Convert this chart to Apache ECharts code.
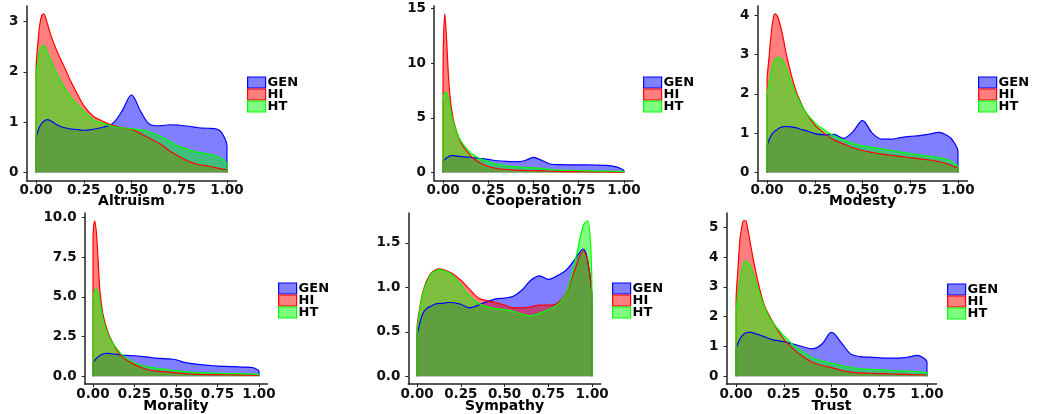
<!DOCTYPE html>
<html><head><meta charset="utf-8">
<script src="https://cdn.jsdelivr.net/npm/echarts@6/dist/echarts.min.js"></script>
<style>html,body{margin:0;padding:0;background:#fff}#c{width:1039px;height:414px}</style>
</head><body><div id="c"></div>
<script>
// shared x grid of the density estimates
const xs = [0, 0.01, 0.02, 0.03, 0.04, 0.05, 0.06, 0.08, 0.10, 0.125, 0.15, 0.175, 0.20, 0.25, 0.30, 0.35, 0.40, 0.45, 0.50, 0.55, 0.60, 0.65, 0.70, 0.75, 0.80, 0.85, 0.90, 0.95, 0.975, 1.0];
const groups = ['GEN', 'HI', 'HT'];
const panelNames = ['Altruism', 'Cooperation', 'Modesty', 'Morality', 'Sympathy', 'Trust'];
const xTicks = [0, 0.25, 0.5, 0.75, 1];

const altruismGEN = [0.69,0.82,0.92,0.98,1.02,1.04,1.05,1.02,0.97,0.92,0.89,0.87,0.86,0.84,0.86,0.90,0.97,1.22,1.54,1.20,0.95,0.93,0.95,0.94,0.92,0.89,0.88,0.86,0.78,0.53];
const altruismHI  = [2.0,2.6,2.95,3.12,3.15,3.08,2.95,2.7,2.5,2.28,2.08,1.87,1.68,1.33,1.12,1.02,0.94,0.89,0.86,0.77,0.67,0.57,0.43,0.32,0.22,0.16,0.13,0.09,0.07,0.04];
const altruismHT  = [1.9,2.2,2.42,2.5,2.52,2.47,2.38,2.2,2.03,1.85,1.68,1.54,1.42,1.22,1.05,0.98,0.92,0.89,0.87,0.85,0.80,0.72,0.62,0.52,0.45,0.40,0.37,0.32,0.27,0.15];

const cooperationGEN = [1.0,1.2,1.35,1.45,1.52,1.55,1.55,1.5,1.46,1.42,1.4,1.35,1.3,1.2,1.08,1.02,1.0,1.08,1.38,1.08,0.76,0.72,0.71,0.7,0.7,0.69,0.65,0.55,0.42,0.15];
const cooperationHI  = [9.0,14.5,12.0,8.8,6.7,5.5,4.6,3.5,2.7,2.1,1.6,1.2,0.93,0.55,0.37,0.28,0.22,0.19,0.19,0.16,0.12,0.10,0.09,0.08,0.07,0.06,0.05,0.04,0.04,0.03];
const cooperationHT  = [6.1,7.3,7.3,6.6,5.8,5.0,4.4,3.5,2.85,2.3,1.85,1.55,1.3,1.0,0.77,0.62,0.53,0.46,0.43,0.37,0.28,0.22,0.20,0.18,0.16,0.14,0.13,0.12,0.11,0.10];

const modestyGEN = [0.66,0.82,0.93,1.0,1.05,1.08,1.12,1.16,1.17,1.16,1.14,1.1,1.07,0.99,0.96,0.97,0.87,1.04,1.32,1.01,0.85,0.85,0.89,0.92,0.94,0.98,1.02,0.92,0.80,0.53];
const modestyHI  = [2.3,2.9,3.45,3.85,4.03,4.0,3.9,3.53,3.03,2.52,2.1,1.8,1.55,1.21,1.0,0.83,0.73,0.63,0.56,0.51,0.47,0.44,0.41,0.38,0.35,0.32,0.28,0.21,0.16,0.11];
const modestyHT  = [1.93,2.25,2.5,2.72,2.86,2.92,2.93,2.86,2.65,2.31,2.01,1.76,1.55,1.27,1.08,0.93,0.83,0.74,0.68,0.64,0.60,0.56,0.52,0.48,0.45,0.41,0.38,0.32,0.25,0.15];

const moralityGEN = [0.83,1.0,1.12,1.22,1.29,1.35,1.4,1.45,1.43,1.4,1.37,1.33,1.31,1.29,1.24,1.18,1.12,1.1,1.04,0.87,0.79,0.73,0.68,0.64,0.62,0.60,0.58,0.56,0.50,0.31];
const moralityHI  = [8.7,9.8,9.1,7.5,5.6,4.6,3.9,3.1,2.5,2.0,1.55,1.25,1.04,0.73,0.52,0.36,0.31,0.27,0.21,0.17,0.13,0.11,0.10,0.10,0.10,0.09,0.08,0.07,0.06,0.04];
const moralityHT  = [4.8,5.4,5.5,5.3,4.7,4.15,3.6,2.9,2.4,2.0,1.65,1.35,1.15,0.83,0.66,0.56,0.48,0.41,0.35,0.29,0.25,0.22,0.21,0.19,0.17,0.16,0.15,0.14,0.13,0.12];

const sympathyGEN = [0.45,0.55,0.63,0.69,0.73,0.75,0.77,0.79,0.81,0.82,0.82,0.83,0.83,0.81,0.77,0.80,0.84,0.87,0.88,0.90,0.97,1.08,1.13,1.09,1.13,1.19,1.31,1.43,1.30,0.86];
const sympathyHI  = [0.54,0.70,0.82,0.92,0.99,1.05,1.09,1.16,1.19,1.21,1.20,1.18,1.16,1.08,0.98,0.88,0.85,0.83,0.80,0.77,0.77,0.78,0.80,0.80,0.82,0.93,1.19,1.41,1.30,0.85];
const sympathyHT  = [0.49,0.66,0.80,0.90,0.97,1.03,1.07,1.15,1.18,1.20,1.19,1.17,1.14,1.03,0.90,0.82,0.78,0.76,0.75,0.73,0.70,0.68,0.71,0.75,0.80,0.93,1.27,1.70,1.75,0.86];

const trustGEN = [0.92,1.1,1.25,1.35,1.41,1.45,1.47,1.47,1.43,1.38,1.32,1.26,1.21,1.16,1.08,0.99,0.92,1.08,1.47,1.14,0.75,0.66,0.64,0.62,0.61,0.61,0.64,0.70,0.64,0.47];
const trustHI  = [2.46,3.6,4.56,5.0,5.22,5.22,5.0,4.28,3.62,2.9,2.35,2.02,1.74,1.25,0.92,0.66,0.47,0.36,0.29,0.20,0.14,0.11,0.10,0.09,0.08,0.07,0.06,0.05,0.05,0.04];
const trustHT  = [2.13,2.7,3.18,3.55,3.79,3.86,3.84,3.62,3.23,2.74,2.3,1.96,1.74,1.36,1.05,0.81,0.62,0.51,0.44,0.36,0.30,0.25,0.23,0.22,0.20,0.18,0.17,0.15,0.14,0.11];

const altruismYTicks = [0, 1, 2, 3];
const cooperationYTicks = [0, 5, 10, 15];
const modestyYTicks = [0, 1, 2, 3, 4];
const moralityYTicks = [0, 2.5, 5, 7.5, 10];
const sympathyYTicks = [0, 0.5, 1, 1.5];
const trustYTicks = [0, 1, 2, 3, 4, 5];

const panelSeries = [
  [altruismGEN, altruismHI, altruismHT],
  [cooperationGEN, cooperationHI, cooperationHT],
  [modestyGEN, modestyHI, modestyHT],
  [moralityGEN, moralityHI, moralityHT],
  [sympathyGEN, sympathyHI, sympathyHT],
  [trustGEN, trustHI, trustHT]
];
const panelYTicks = [altruismYTicks, cooperationYTicks, modestyYTicks, moralityYTicks, sympathyYTicks, trustYTicks];

// layout (pixels)
const gridPos = [
  {left: 26.5, top: 6, width: 210, height: 174.5},
  {left: 434, top: 6, width: 199, height: 174.5},
  {left: 757.5, top: 6, width: 210, height: 174.5},
  {left: 84.7, top: 213, width: 182.6, height: 171.5},
  {left: 408.3, top: 213, width: 192.5, height: 171.5},
  {left: 726.5, top: 213, width: 210, height: 172}
];
const nameGaps = [14, 14, 14, 15, 15, 15];
const legendPos = [[247, 76], [643, 76], [978, 76], [278, 282], [612, 282], [947, 283]];
const yDecimals = [0, 0, 0, 1, 1, 0];

const lineColors = ['#0000ff', '#ff0000', '#00ff00'];
const fillColors = ['rgba(0,0,255,0.5)', 'rgba(255,0,0,0.5)', 'rgba(0,255,0,0.5)'];
const FONT = 'DejaVu Sans';
const axisColor = '#222';

const grid = [], xAxis = [], yAxis = [], series = [], legend = [];
panelNames.forEach((name, p) => {
  grid.push(Object.assign({containLabel: false}, gridPos[p]));
  let peak = 0;
  panelSeries[p].forEach(a => a.forEach(v => { if (v > peak) peak = v; }));
  xAxis.push({
    type: 'value', gridIndex: p, min: -0.05, max: 1.05,
    name: name, nameLocation: 'middle', nameGap: nameGaps[p], nameMoveOverlap: false,
    nameTextStyle: {fontFamily: FONT, fontWeight: 'bold', fontSize: 14, color: '#000'},
    axisLine: {onZero: false, lineStyle: {color: axisColor, width: 1.5}},
    axisTick: {customValues: xTicks, length: 3, lineStyle: {color: axisColor, width: 1}},
    axisLabel: {customValues: xTicks, margin: 3, formatter: v => v.toFixed(2),
      fontFamily: FONT, fontWeight: 'bold', fontSize: 13.5, color: '#111'},
    splitLine: {show: false}
  });
  yAxis.push({
    type: 'value', gridIndex: p, min: -0.05 * peak, max: 1.05 * peak,
    axisLine: {show: true, onZero: false, lineStyle: {color: axisColor, width: 1.5}},
    axisTick: {show: true, customValues: panelYTicks[p], length: 3, lineStyle: {color: axisColor, width: 1}},
    axisLabel: {customValues: panelYTicks[p], margin: 8, formatter: v => v.toFixed(yDecimals[p]),
      fontFamily: FONT, fontWeight: 'bold', fontSize: 13.5, color: '#111'},
    splitLine: {show: false}
  });
  groups.forEach((g, k) => {
    const vals = panelSeries[p][k];
    const data = [[0, 0]].concat(xs.map((x, i) => [x, vals[i]])).concat([[1, 0]]);
    series.push({
      type: 'line', name: g, xAxisIndex: p, yAxisIndex: p, data: data,
      smooth: 0.35, showSymbol: false, symbol: 'none',
      lineStyle: {color: lineColors[k], width: 1.2},
      itemStyle: {color: lineColors[k]},
      areaStyle: {color: fillColors[k], opacity: 1},
      silent: true, animation: false
    });
  });
  legend.push({
    orient: 'vertical', left: legendPos[p][0], top: legendPos[p][1],
    itemWidth: 18, itemHeight: 11, itemGap: -1, selectedMode: false, padding: 0,
    textStyle: {fontFamily: FONT, fontWeight: 'bold', fontSize: 13, color: '#000', lineHeight: 13, padding: [0, 0, 0, -3]},
    data: groups.map((g, k) => ({name: g, icon: 'rect',
      itemStyle: {color: fillColors[k], borderColor: lineColors[k], borderWidth: 1.2}}))
  });
});

const chart = echarts.init(document.getElementById('c'), null, {renderer: 'canvas'});
chart.setOption({animation: false, backgroundColor: '#fff', grid, xAxis, yAxis, series, legend});
</script></body></html>
